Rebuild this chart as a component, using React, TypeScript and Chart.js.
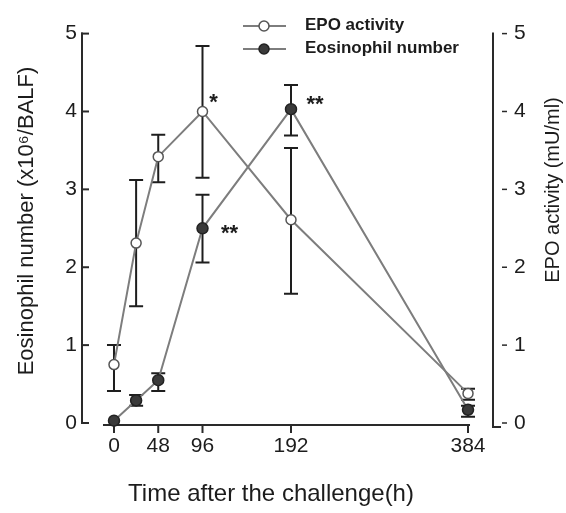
import React, { useEffect, useRef } from 'react';
import { Chart, registerables } from 'chart.js';

Chart.register(...registerables);

// ---- data ----
const hours = [0, 24, 48, 96, 192, 384];
const xTickValues = [0, 48, 96, 192, 384];
const yTickValues = [0, 1, 2, 3, 4, 5];

const epoActivity = [0.75, 2.31, 3.42, 4.0, 2.61, 0.38];
const epoHigh = [1.0, 3.12, 3.7, 4.84, 3.53, 0.44];
const epoLow = [0.41, 1.5, 3.09, 3.15, 1.66, 0.3];

const eosinophilNumber = [0.03, 0.29, 0.55, 2.5, 4.03, 0.17];
const eosHigh = [0.03, 0.36, 0.64, 2.93, 4.34, 0.22];
const eosLow = [0.03, 0.22, 0.41, 2.06, 3.69, 0.08];

const seriesLabels = ['EPO activity', 'Eosinophil number'];
const xTitle = 'Time after the challenge(h)';
const yLeftTitle = 'Eosinophil number (x10\u2076/BALF)';
const yRightTitle = 'EPO activity (mU/ml)';

// significance marks: dataset index, point index, text
const markDataset = [0, 1, 1];
const markPoint = [3, 3, 4];
const markText = ['*', '**', '**'];

const FONT = '"Liberation Sans", Arial, sans-serif';
const INK = '#1c1c1c';
const LINE = '#7d7d7d';

const lows = [epoLow, eosLow];
const highs = [epoHigh, eosHigh];

const decorPlugin = {
  id: 'decor',
  beforeDatasetsDraw(chart: any) {
    const { ctx, chartArea, scales } = chart;
    const xs = scales.x;
    const yl = scales.y;
    const yr = scales.y1;
    ctx.save();
    ctx.strokeStyle = '#2a2a2a';
    ctx.lineWidth = 2;
    // left axis
    const lx = chartArea.left;
    ctx.beginPath();
    ctx.moveTo(lx, yl.getPixelForValue(5) - 1);
    ctx.lineTo(lx, yl.getPixelForValue(0) + 1);
    ctx.stroke();
    yTickValues.forEach((v) => {
      const y = yl.getPixelForValue(v);
      ctx.beginPath();
      ctx.moveTo(lx - 1, y);
      ctx.lineTo(lx + 7, y);
      ctx.stroke();
    });
    // right axis
    const rx = chartArea.right;
    ctx.beginPath();
    ctx.moveTo(rx, yr.getPixelForValue(5) - 1);
    ctx.lineTo(rx, yr.getPixelForValue(0) + 4);
    ctx.lineTo(rx + 8, yr.getPixelForValue(0) + 4);
    ctx.stroke();
    ctx.lineWidth = 1.5;
    yTickValues.forEach((v) => {
      const y = yr.getPixelForValue(v);
      ctx.beginPath();
      ctx.moveTo(rx + 9, y);
      ctx.lineTo(rx + 14, y);
      ctx.stroke();
    });
    // x axis
    ctx.lineWidth = 2;
    const ay = yl.getPixelForValue(0) + 2;
    ctx.beginPath();
    ctx.moveTo(xs.getPixelForValue(0) - 11, ay);
    ctx.lineTo(xs.getPixelForValue(384) + 2, ay);
    ctx.stroke();
    xTickValues.forEach((v) => {
      const x = xs.getPixelForValue(v);
      ctx.beginPath();
      ctx.moveTo(x, ay);
      ctx.lineTo(x, ay + 8);
      ctx.stroke();
    });
    // error bars
    ctx.strokeStyle = '#1e1e1e';
    ctx.lineWidth = 2;
    chart.data.datasets.forEach((ds: any, d: number) => {
      const ys = scales[ds.yAxisID];
      hours.forEach((h, i) => {
        const lo = lows[d][i];
        const hi = highs[d][i];
        if (hi === lo) return;
        const x = xs.getPixelForValue(h);
        const y1 = ys.getPixelForValue(hi);
        const y2 = ys.getPixelForValue(lo);
        ctx.beginPath();
        ctx.moveTo(x, y1);
        ctx.lineTo(x, y2);
        ctx.moveTo(x - 7, y1);
        ctx.lineTo(x + 7, y1);
        ctx.moveTo(x - 7, y2);
        ctx.lineTo(x + 7, y2);
        ctx.stroke();
      });
    });
    ctx.restore();
  },
  afterDraw(chart: any) {
    const { ctx } = chart;
    ctx.save();
    ctx.fillStyle = INK;
    // axis titles
    ctx.textAlign = 'center';
    ctx.textBaseline = 'middle';
    ctx.font = `24px ${FONT}`;
    ctx.fillText(xTitle, 271, 494);
    ctx.save();
    ctx.translate(27, 221);
    ctx.rotate(-Math.PI / 2);
    ctx.font = `22px ${FONT}`;
    ctx.fillText(yLeftTitle, 0, 0);
    ctx.restore();
    ctx.save();
    ctx.translate(553, 190);
    ctx.rotate(-Math.PI / 2);
    ctx.font = `20px ${FONT}`;
    ctx.fillText(yRightTitle, 0, 0);
    ctx.restore();

    // legend
    const rows = [26, 49];
    chart.data.datasets.forEach((ds: any, d: number) => {
      const y = rows[d];
      ctx.strokeStyle = LINE;
      ctx.lineWidth = 2;
      ctx.beginPath();
      ctx.moveTo(243, y);
      ctx.lineTo(286, y);
      ctx.stroke();
      ctx.beginPath();
      ctx.arc(264, y, 5, 0, Math.PI * 2);
      ctx.fillStyle = ds.pointBackgroundColor;
      ctx.fill();
      ctx.lineWidth = 1.5;
      ctx.strokeStyle = ds.pointBorderColor;
      ctx.stroke();
      ctx.fillStyle = INK;
      ctx.textAlign = 'left';
      ctx.textBaseline = 'middle';
      ctx.font = `bold 17px ${FONT}`;
      ctx.fillText(ds.label, 305, y - 1);
    });

    // significance marks
    const offsets = [
      [11, -15],
      [27, -1],
      [24, -11],
    ];
    ctx.textAlign = 'center';
    ctx.textBaseline = 'alphabetic';
    ctx.font = `bold 22px ${FONT}`;
    ctx.fillStyle = INK;
    markText.forEach((t, k) => {
      const meta = chart.getDatasetMeta(markDataset[k]);
      const el = meta.data[markPoint[k]];
      const cx = el.x + offsets[k][0];
      const cy = el.y + offsets[k][1];
      ctx.fillText(t, cx, cy + 13);
    });
    ctx.restore();
  },
};

export default function App() {
  const ref = useRef<HTMLCanvasElement | null>(null);
  useEffect(() => {
    if (!ref.current) return;
    Chart.defaults.font.family = FONT;
    const chart = new Chart(ref.current, {
      type: 'line',
      data: {
        datasets: [
          {
            label: seriesLabels[0],
            data: hours.map((h, i) => ({ x: h, y: epoActivity[i] })),
            yAxisID: 'y1',
            borderColor: LINE,
            borderWidth: 2,
            pointRadius: 5,
            pointBackgroundColor: '#ffffff',
            pointBorderColor: '#555555',
            pointBorderWidth: 1.5,
            clip: false,
          } as any,
          {
            label: seriesLabels[1],
            data: hours.map((h, i) => ({ x: h, y: eosinophilNumber[i] })),
            yAxisID: 'y',
            borderColor: LINE,
            borderWidth: 2,
            pointRadius: 5.5,
            pointBackgroundColor: '#3a3a3a',
            pointBorderColor: '#222222',
            pointBorderWidth: 1.5,
            clip: false,
          } as any,
        ],
      },
      options: {
        responsive: false,
        animation: false,
        layout: { padding: { top: 22, left: 0, right: 0, bottom: 0 } },
        plugins: { legend: { display: false }, tooltip: { enabled: false } },
        scales: {
          x: {
            type: 'linear',
            min: -34.7,
            max: 411.1,
            afterBuildTicks: (s: any) => {
              s.ticks = xTickValues.map((v) => ({ value: v }));
            },
            afterFit: (s: any) => {
              s.height = 90;
            },
            grid: { display: false, drawTicks: false },
            border: { display: false },
            ticks: {
              font: { size: 21 },
              color: INK,
              padding: 11,
              maxRotation: 0,
              autoSkip: false,
            },
          },
          y: {
            position: 'left',
            min: 0,
            max: 5,
            afterBuildTicks: (s: any) => {
              s.ticks = yTickValues.map((v) => ({ value: v }));
            },
            afterFit: (s: any) => {
              s.width = 82;
            },
            grid: { display: false, drawTicks: false },
            border: { display: false },
            ticks: { font: { size: 21 }, color: INK, padding: 5 },
          },
          y1: {
            position: 'right',
            min: 0,
            max: 5,
            afterBuildTicks: (s: any) => {
              s.ticks = yTickValues.map((v) => ({ value: v }));
            },
            afterFit: (s: any) => {
              s.width = 73;
            },
            grid: { display: false, drawTicks: false },
            border: { display: false },
            ticks: { font: { size: 21 }, color: INK, padding: 21 },
          },
        },
      } as any,
      plugins: [decorPlugin],
    });
    return () => chart.destroy();
  }, []);

  return (
    <div
      style={{
        position: 'fixed',
        left: 0,
        top: 0,
        width: 566,
        height: 513,
        background: '#ffffff',
      }}
    >
      <canvas ref={ref} width={566} height={513} style={{ display: 'block' }} />
    </div>
  );
}
